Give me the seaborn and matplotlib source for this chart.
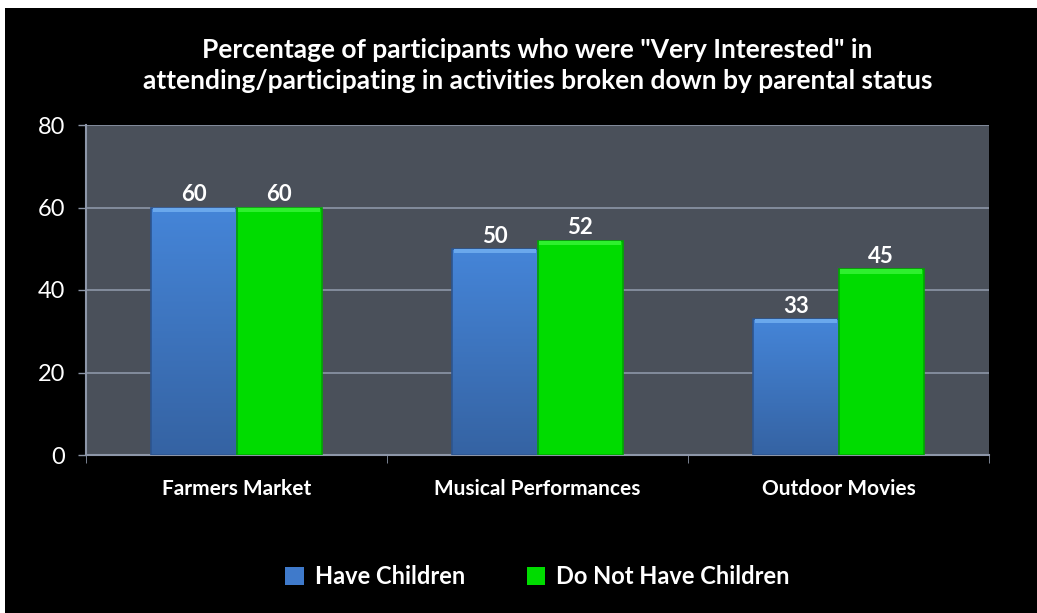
import numpy as np
import pandas as pd
import matplotlib
matplotlib.use("Agg")
import matplotlib.pyplot as plt
from matplotlib.patches import Rectangle
import seaborn as sns

# --- Datos ---
categories = ["Farmers Market", "Musical Performances", "Outdoor Movies"]
series_names = ["Have Children", "Do Not Have Children"]
have_children = [60, 50, 33]
no_children = [60, 52, 45]
y_ticks = [0, 20, 40, 60, 80]
title = ('Percentage of participants who were "Very Interested" in\n'
         'attending/participating in activities broken down by parental status')

df = pd.DataFrame({
    "categoria": categories * 2,
    "grupo": [series_names[0]] * 3 + [series_names[1]] * 3,
    "valor": have_children + no_children,
})

sns.set_style("dark")
plt.rcParams['font.family'] = ['Lato', 'DejaVu Sans']

colores = {series_names[0]: "#3f7acb", series_names[1]: "#00dc00"}

fig = plt.figure(figsize=(10.37, 6.13), dpi=100, facecolor="white")
# fondo negro con borde blanco arriba/izquierda
fig.patches.append(Rectangle((5 / 1037, 0), 1, 1 - 8 / 613, transform=fig.transFigure,
                             facecolor="black", edgecolor="none", zorder=-10))

ax = fig.add_axes([86 / 1037, 1 - 455 / 613, (989 - 86) / 1037, (455 - 125) / 613])
ax.set_facecolor("#4a505a")

sns.barplot(data=df, x="categoria", y="valor", hue="grupo", order=categories,
            hue_order=series_names, palette=colores, width=0.565, gap=0,
            ax=ax, legend=True, saturation=1, edgecolor="none", zorder=3)

# degradado en las barras azules + brillo superior
bar_patches = [p for p in ax.patches if p.get_height() > 0]
for patch, grp in zip(bar_patches, [series_names[0]] * 3 + [series_names[1]] * 3):
    x0, y0 = patch.get_x(), patch.get_y()
    w, h = patch.get_width(), patch.get_height()
    if grp == series_names[0]:
        grad = np.linspace(0, 1, 100).reshape(-1, 1)
        cmap = matplotlib.colors.LinearSegmentedColormap.from_list("b", ["#3563a3", "#4585d8"])
        im = ax.imshow(grad, extent=[x0, x0 + w, y0, y0 + h], origin="lower",
                       cmap=cmap, aspect="auto", zorder=3.5)
        im.set_clip_path(patch)
        top = "#6aa8ec"
        edge = "#2d5590"
    else:
        top = "#2ef02e"
        edge = "#00a800"
    # bordes laterales oscuros y brillo superior
    ax.add_patch(Rectangle((x0, y0), w, h, facecolor="none", edgecolor=edge,
                           linewidth=1.2, zorder=4))
    ax.add_patch(Rectangle((x0 + w * 0.02, y0 + h - 1.0), w * 0.96, 1.0, facecolor=top,
                           edgecolor="none", zorder=4.5))
    ax.text(x0 + w / 2, y0 + h + 0.5, f"{h:.0f}", ha="center", va="bottom",
            color="white", fontsize=16, fontweight="bold", zorder=5)

ax.set_xlim(-0.5, 2.5)
ax.set_ylim(0, 80)
ax.set_yticks(y_ticks)
ax.yaxis.grid(True, color="#8d96a8", linewidth=1.2, zorder=1)
ax.xaxis.grid(False)
ax.set_axisbelow(True)
ax.set_xlabel("")
ax.set_ylabel("")

ax.tick_params(axis="y", colors="#8d96a8", labelcolor="white", labelsize=17,
               length=6, width=1, left=True, pad=9)
ax.tick_params(axis="x", which="major", length=0, labelcolor="white", labelsize=15, pad=17)
ax.set_xticks([-0.5, 0.5, 1.5, 2.5], minor=True)
ax.tick_params(axis="x", which="minor", length=6, color="#8d96a8", bottom=True)
for lbl in ax.get_xticklabels():
    lbl.set_fontweight("bold")

for s in ["top", "right"]:
    ax.spines[s].set_visible(False)
for s in ["left", "bottom"]:
    ax.spines[s].set_visible(True)
    ax.spines[s].set_color("#8d96a8")
    ax.spines[s].set_linewidth(1.5)

ax.set_title(title, color="white", fontsize=19, fontweight="bold",
             pad=26, linespacing=1.35)

leg = ax.legend(loc="upper center", bbox_to_anchor=(0.5, -0.27), ncol=2,
                frameon=False, fontsize=17, handlelength=0.8, handleheight=0.8,
                handletextpad=0.45, columnspacing=2.6)
for t in leg.get_texts():
    t.set_color("white")
    t.set_fontweight("bold")

plt.savefig("out.png", dpi=100, facecolor=fig.get_facecolor())
